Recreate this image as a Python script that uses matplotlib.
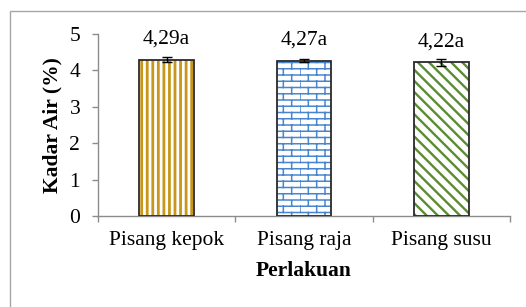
import numpy as np
import matplotlib
matplotlib.use("Agg")
import matplotlib.pyplot as plt
import matplotlib.hatch as mhatch
from matplotlib.path import Path
from matplotlib.patches import Rectangle

# ---- data ----
categories = ["Pisang kepok", "Pisang raja", "Pisang susu"]
values = [4.29, 4.27, 4.22]
errors = [0.07, 0.03, 0.09]
labels = ["4,29a", "4,27a", "4,22a"]
yticks = [0, 1, 2, 3, 4, 5]

# ---- custom brick hatch ('b') ----
class BrickHatch(mhatch.HatchPatternBase):
    def __init__(self, hatch, density):
        n = hatch.count('b')
        self.rows = 16 * n if n else 0
        self.cols = 6 * n if n else 0
        if n:
            nh = self.rows + 1
            nv = self.rows * self.cols
            self.num_vertices = 2 * (nh + nv)
        else:
            self.num_vertices = 0

    def set_vertices_and_codes(self, vertices, codes):
        R, C = self.rows, self.cols
        k = 0
        for i in range(R + 1):
            y = i / R
            vertices[k] = (0.0, y); vertices[k + 1] = (1.0, y)
            k += 2
        for r in range(R):
            off = 0.5 * (r % 2)
            for c in range(C):
                x = (c + off) / C
                vertices[k] = (x, r / R); vertices[k + 1] = (x, (r + 1) / R)
                k += 2
        codes[0::2] = Path.MOVETO
        codes[1::2] = Path.LINETO

mhatch._hatch_types.append(BrickHatch)

import warnings
warnings.filterwarnings("ignore")

plt.rcParams['font.family'] = ['Liberation Serif', 'DejaVu Serif']
FS = 15.5

fig = plt.figure(figsize=(5.26, 3.07), dpi=100)
ax = fig.add_axes([98/526, 1-216/307, (510-98)/526, (216-34)/307])

x = np.arange(len(categories))
hatch_specs = [("|||", "#C8961A", 2.0), ("b", "#4A86CF", 1.1), ("\\\\\\", "#5B8C32", 1.7)]
for xi, v, (h, col, lw) in zip(x, values, hatch_specs):
    with plt.rc_context({'hatch.linewidth': lw}):
        bc = ax.bar(xi, v, width=0.4, color='white', edgecolor=col, hatch=h, linewidth=0, zorder=2)
    for p in bc:
        if hasattr(p, 'set_hatch_linewidth'):
            p.set_hatch_linewidth(lw)
ax.bar(x, values, width=0.4, facecolor='none', edgecolor='#2a2a2a', linewidth=1.3, zorder=3)
ax.errorbar(x, values, yerr=errors, fmt='none', ecolor='black', elinewidth=1.0,
            capsize=3.6, capthick=1.0, zorder=4)

for xi, v, lab in zip(x, values, labels):
    ax.annotate(lab, xy=(xi, v), xytext=(0, 11.5), textcoords='offset points',
                ha='center', va='baseline', fontsize=FS)

ax.set_xlim(-0.5, 2.5)
ax.set_ylim(0, 5)
ax.set_yticks(yticks)
ax.set_yticklabels([str(t) for t in yticks])
ax.set_xticks(np.arange(-0.5, 3.0, 1.0))
ax.set_xticklabels([])
ax.set_xticks(x, minor=True)
ax.set_xticklabels(categories, minor=True)

for s in ['top', 'right']:
    ax.spines[s].set_visible(False)
for s in ['left', 'bottom']:
    ax.spines[s].set_color('#8c8c8c')
    ax.spines[s].set_linewidth(1.0)

ax.tick_params(axis='y', which='major', direction='out', length=4.3, width=1.0,
               color='#8c8c8c', labelsize=FS, pad=8.5)
ax.tick_params(axis='x', which='major', direction='out', length=4.0, width=1.0,
               color='#8c8c8c')
ax.tick_params(axis='x', which='minor', length=0, labelsize=FS, pad=10.5)

ax.set_ylabel("Kadar Air (%)", fontsize=FS, fontweight='bold', labelpad=5)
ax.set_xlabel("Perlakuan", fontsize=FS, fontweight='bold', labelpad=8.5)

fig.add_artist(Rectangle((10/526, -0.2), 1.2, 1-11/307+0.2, transform=fig.transFigure,
                         fill=False, edgecolor='#a6a6a6', linewidth=1.0))

fig.savefig("out.png", dpi=100)
